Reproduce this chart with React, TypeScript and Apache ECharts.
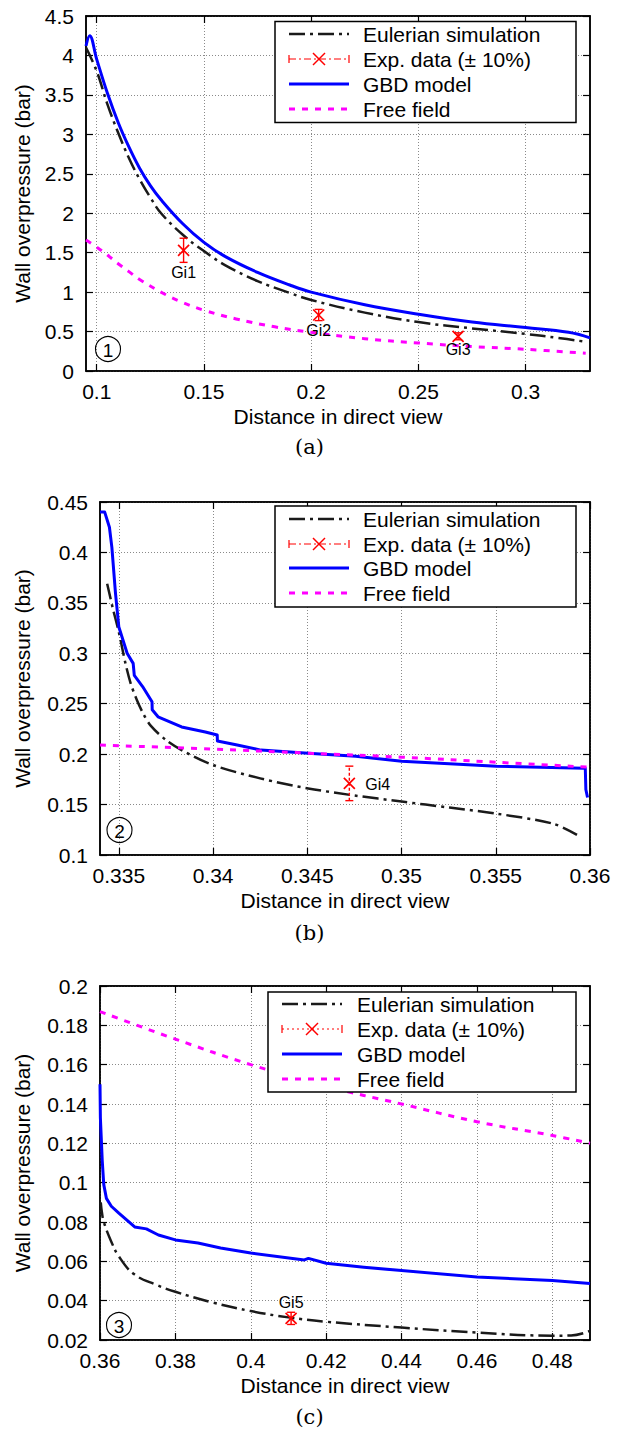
import React, { useEffect, useRef } from "react";
import * as echarts from "echarts";

const FONT = "'Liberation Sans', Arial, sans-serif";
const SERIF = "'DejaVu Serif', 'Liberation Serif', serif";

// ---------- Panel (a) ----------
const xTicksA = [0.1, 0.15, 0.2, 0.25, 0.3];
const eulerA: number[][] = [
  [0.095, 4.1], [0.1, 3.8], [0.105, 3.38], [0.11, 3.02], [0.115, 2.7], [0.12, 2.43],
  [0.125, 2.2], [0.13, 2.0], [0.14, 1.73], [0.15, 1.52], [0.16, 1.34], [0.175, 1.14],
  [0.19, 0.99], [0.2, 0.9], [0.225, 0.74], [0.25, 0.62], [0.275, 0.54], [0.3, 0.47],
  [0.315, 0.42], [0.328, 0.37],
];
const gbdA: number[][] = [
  [0.095, 4.12], [0.0967, 4.25], [0.1, 3.95], [0.105, 3.52], [0.11, 3.15], [0.115, 2.84],
  [0.12, 2.57], [0.125, 2.35], [0.13, 2.17], [0.14, 1.87], [0.15, 1.63], [0.16, 1.45],
  [0.175, 1.25], [0.19, 1.09], [0.2, 1.0], [0.225, 0.84], [0.25, 0.72], [0.275, 0.62],
  [0.3, 0.55], [0.32, 0.49], [0.33, 0.42],
];
const freeA: number[][] = [
  [0.095, 1.66], [0.1, 1.57], [0.105, 1.47], [0.11, 1.36], [0.115, 1.26], [0.12, 1.16],
  [0.132, 0.97], [0.14, 0.87], [0.15, 0.77], [0.165, 0.66], [0.183, 0.56], [0.2, 0.49],
  [0.225, 0.41], [0.25, 0.355], [0.275, 0.31], [0.3, 0.275], [0.328, 0.225],
];
const expXA = [0.1405, 0.2035, 0.2685];
const expYA = [1.53, 0.71, 0.44];
const expNamesA = ["Gi1", "Gi2", "Gi3"];

// ---------- Panel (b) ----------
const xTicksB = [0.335, 0.34, 0.345, 0.35, 0.355, 0.36];
const eulerB: number[][] = [
  [0.33438, 0.369], [0.3347, 0.343], [0.335, 0.321], [0.33535, 0.29], [0.33563, 0.27],
  [0.33595, 0.254], [0.3363, 0.24], [0.3367, 0.228], [0.3375, 0.214], [0.33833, 0.204],
  [0.34003, 0.189], [0.3425, 0.176], [0.34505, 0.166], [0.3475, 0.159], [0.35001, 0.153],
  [0.35254, 0.147], [0.35504, 0.141], [0.35805, 0.131], [0.35931, 0.12],
];
const gbdB: number[][] = [
  [0.334, 0.44], [0.33425, 0.44], [0.3345, 0.425], [0.33463, 0.405], [0.33482, 0.36],
  [0.335, 0.326], [0.33544, 0.3], [0.33576, 0.29], [0.33582, 0.278], [0.33626, 0.267],
  [0.33676, 0.252], [0.33677, 0.244], [0.33708, 0.237], [0.33833, 0.227], [0.33959, 0.222],
  [0.34022, 0.219], [0.34023, 0.213], [0.34128, 0.209], [0.34254, 0.204], [0.34505, 0.201],
  [0.34757, 0.198], [0.35001, 0.193], [0.35504, 0.188], [0.35969, 0.186], [0.35975, 0.186],
  [0.35978, 0.165], [0.35987, 0.157],
];
const freeB: number[][] = [
  [0.334, 0.209], [0.34, 0.205], [0.345, 0.201], [0.35, 0.197], [0.355, 0.192], [0.36, 0.187],
];
const expXB = [0.34723];
const expYB = [0.171];
const expNamesB = ["Gi4"];

// ---------- Panel (c) ----------
const xTicksC = [0.36, 0.38, 0.4, 0.42, 0.44, 0.46, 0.48];
const eulerC: number[][] = [
  [0.3602, 0.09], [0.3605, 0.085], [0.361, 0.08], [0.363, 0.07], [0.365, 0.0625],
  [0.369, 0.0535], [0.375, 0.048], [0.38, 0.0445], [0.39, 0.039], [0.4, 0.0347],
  [0.41, 0.0315], [0.42, 0.0293], [0.44, 0.0263], [0.46, 0.0238], [0.48, 0.0222],
  [0.485, 0.0223], [0.49, 0.0246],
];
const gbdC: number[][] = [
  [0.36, 0.15], [0.3601, 0.133], [0.3606, 0.111], [0.361, 0.099], [0.3617, 0.092],
  [0.363, 0.088], [0.365, 0.0845], [0.3692, 0.0775], [0.3723, 0.0765], [0.3755, 0.0734],
  [0.38, 0.0709], [0.386, 0.0693], [0.392, 0.0668], [0.4, 0.0642], [0.4142, 0.0607],
  [0.4153, 0.0615], [0.42, 0.059], [0.43, 0.057], [0.44, 0.0553], [0.46, 0.052],
  [0.48, 0.0503], [0.49, 0.0487],
];
const freeC: number[][] = [
  [0.36, 0.187], [0.38, 0.173], [0.4, 0.16], [0.42, 0.149], [0.44, 0.14], [0.46, 0.131],
  [0.48, 0.124], [0.49, 0.12],
];
const expXC = [0.4107];
const expYC = [0.031];
const expNamesC = ["Gi5"];

const legendNames = ["Eulerian simulation", "Exp. data (\u00b1 10%)", "GBD model", "Free field"];

const BLACK = "#1a1a1a";
const RED = "#ff0000";
const BLUE = "#0000ff";
const MAGENTA = "#ff00ff";
const EULER_DASH = [16, 5, 3, 5];
const FREE_DASH = [6, 7];

const grids = [
  { left: 86, top: 16, width: 504, height: 355 },
  { left: 100, top: 502, width: 490, height: 353 },
  { left: 100, top: 986, width: 490, height: 354 },
];

function xAxes(gi: number, min: number, max: number, ticks: number[]) {
  const bottom = {
    type: "value", gridIndex: gi, min, max, position: "bottom",
    axisLine: { show: true, onZero: false, lineStyle: { color: "#000", width: 1.5 } },
    axisTick: { show: true, inside: true, length: 7, customValues: ticks, lineStyle: { color: "#000", width: 1.2 } },
    axisLabel: { show: true, customValues: ticks, color: "#000", fontSize: 21, fontFamily: FONT, margin: 10 },
    splitLine: { show: true, lineStyle: { color: "#8a8a8a", width: 1, type: [1, 2] } },
    name: "Distance in direct view", nameLocation: "middle", nameGap: 35,
    nameTextStyle: { color: "#000", fontSize: 21, fontFamily: FONT },
  };
  const top = {
    type: "value", gridIndex: gi, min, max, position: "top",
    axisLine: { show: true, onZero: false, lineStyle: { color: "#000", width: 1.5 } },
    axisTick: { show: true, inside: true, length: 7, customValues: ticks, lineStyle: { color: "#000", width: 1.2 } },
    axisLabel: { show: false },
    splitLine: { show: false },
  };
  return [bottom, top];
}

function yAxes(gi: number, min: number, max: number, interval: number, nameGap: number) {
  const left = {
    type: "value", gridIndex: gi, min, max, interval, position: "left",
    axisLine: { show: true, onZero: false, lineStyle: { color: "#000", width: 1.5 } },
    axisTick: { show: true, inside: true, length: 7, lineStyle: { color: "#000", width: 1.2 } },
    axisLabel: { show: true, color: "#000", fontSize: 21, fontFamily: FONT, margin: 12 },
    splitLine: { show: true, lineStyle: { color: "#8a8a8a", width: 1, type: [1, 2] } },
    name: "Wall overpressure (bar)", nameLocation: "middle", nameGap,
    nameTextStyle: { color: "#000", fontSize: 21, fontFamily: FONT },
  };
  const right = {
    type: "value", gridIndex: gi, min, max, interval, position: "right",
    axisLine: { show: true, onZero: false, lineStyle: { color: "#000", width: 1.5 } },
    axisTick: { show: true, inside: true, length: 7, lineStyle: { color: "#000", width: 1.2 } },
    axisLabel: { show: false },
    splitLine: { show: false },
  };
  return [left, right];
}

function lineSeries(idx: number, name: string, data: number[][], color: string, width: number, type: any, smooth: number | boolean) {
  return {
    type: "line", name, xAxisIndex: idx, yAxisIndex: idx, data,
    showSymbol: false, symbol: "none", smooth,
    lineStyle: { color, width, type, cap: "butt", join: "round" },
    z: 3,
  };
}

function expSeries(idx: number, xs: number[], ys: number[], names: string[], mode: string, dash: number[] | null) {
  const data = xs.map((x, i) => [x, ys[i], ys[i] * 0.9, ys[i] * 1.1]);
  return {
    type: "custom", name: "Exp. data", xAxisIndex: idx, yAxisIndex: idx, data,
    encode: { x: 0, y: 1 }, z: 4,
    renderItem: (params: any, api: any) => {
      const x = api.value(0);
      const p = api.coord([x, api.value(1)]);
      const lo = api.coord([x, api.value(2)]);
      const hi = api.coord([x, api.value(3)]);
      const s = 5.5;
      const c = 4;
      const st = { stroke: RED, lineWidth: 1.4, fill: "none" };
      const label = names[params.dataIndex];
      let text: any;
      if (mode === "below") {
        text = { type: "text", x: p[0], y: lo[1] + 2, style: { text: label, fill: "#000", fontSize: 16, fontFamily: FONT, align: "center", verticalAlign: "top" } };
      } else if (mode === "right") {
        text = { type: "text", x: p[0] + 16, y: p[1] + 1, style: { text: label, fill: "#000", fontSize: 16, fontFamily: FONT, align: "left", verticalAlign: "middle" } };
      } else {
        text = { type: "text", x: p[0], y: hi[1] - 2, style: { text: label, fill: "#000", fontSize: 16, fontFamily: FONT, align: "center", verticalAlign: "bottom" } };
      }
      return {
        type: "group",
        children: [
          { type: "line", shape: { x1: lo[0], y1: lo[1], x2: hi[0], y2: hi[1] }, style: { ...st, lineDash: dash || undefined } },
          { type: "line", shape: { x1: lo[0] - c, y1: lo[1], x2: lo[0] + c, y2: lo[1] }, style: st },
          { type: "line", shape: { x1: hi[0] - c, y1: hi[1], x2: hi[0] + c, y2: hi[1] }, style: st },
          { type: "line", shape: { x1: p[0] - s, y1: p[1] - s, x2: p[0] + s, y2: p[1] + s }, style: { ...st, lineWidth: 1.7 } },
          { type: "line", shape: { x1: p[0] - s, y1: p[1] + s, x2: p[0] + s, y2: p[1] - s }, style: { ...st, lineWidth: 1.7 } },
          text,
        ],
      };
    },
  };
}

function legendGraphic(box: number[], rows: number[], sx1: number, sx2: number, textX: number, expDash: number[]) {
  const [l, t, r, b] = box;
  const els: any[] = [
    { type: "rect", shape: { x: l, y: t, width: r - l, height: b - t }, style: { fill: "#fff", stroke: "#000", lineWidth: 1.5 }, z: 100 },
  ];
  const mid = (sx1 + sx2) / 2;
  els.push({ type: "line", shape: { x1: sx1, y1: rows[0], x2: sx2, y2: rows[0] }, style: { stroke: BLACK, lineWidth: 2.5, lineDash: EULER_DASH }, z: 101 });
  els.push({ type: "line", shape: { x1: sx1, y1: rows[1], x2: sx2, y2: rows[1] }, style: { stroke: RED, lineWidth: 1.2, lineDash: expDash }, z: 101 });
  els.push({ type: "line", shape: { x1: sx1, y1: rows[1] - 4, x2: sx1, y2: rows[1] + 4 }, style: { stroke: RED, lineWidth: 1.2 }, z: 101 });
  els.push({ type: "line", shape: { x1: sx2, y1: rows[1] - 4, x2: sx2, y2: rows[1] + 4 }, style: { stroke: RED, lineWidth: 1.2 }, z: 101 });
  els.push({ type: "line", shape: { x1: mid - 6, y1: rows[1] - 6, x2: mid + 6, y2: rows[1] + 6 }, style: { stroke: RED, lineWidth: 1.5 }, z: 101 });
  els.push({ type: "line", shape: { x1: mid - 6, y1: rows[1] + 6, x2: mid + 6, y2: rows[1] - 6 }, style: { stroke: RED, lineWidth: 1.5 }, z: 101 });
  els.push({ type: "line", shape: { x1: sx1, y1: rows[2], x2: sx2, y2: rows[2] }, style: { stroke: BLUE, lineWidth: 3.2 }, z: 101 });
  els.push({ type: "line", shape: { x1: sx1, y1: rows[3], x2: sx2, y2: rows[3] }, style: { stroke: MAGENTA, lineWidth: 3, lineDash: FREE_DASH }, z: 101 });
  legendNames.forEach((n, i) => {
    els.push({ type: "text", x: textX, y: rows[i], style: { text: n, fill: "#000", fontSize: 21, fontFamily: FONT, verticalAlign: "middle", align: "left" }, z: 101 });
  });
  return els;
}

function circleLabel(cx: number, cy: number, txt: string) {
  return [
    { type: "circle", shape: { cx, cy, r: 12.5 }, style: { fill: "none", stroke: "#000", lineWidth: 1.1 }, z: 50 },
    { type: "text", x: cx, y: cy + 1, style: { text: txt, fill: "#000", fontSize: 19, fontFamily: FONT, align: "center", verticalAlign: "middle" }, z: 50 },
  ];
}

function caption(y: number, txt: string) {
  return { type: "text", x: 309.5, y, style: { text: txt, fill: "#000", fontSize: 21, fontFamily: SERIF, align: "center", verticalAlign: "middle" }, z: 50 };
}

function buildOption() {
  const [xa, xaT] = xAxes(0, 0.095, 0.33, xTicksA);
  const [xb, xbT] = xAxes(1, 0.334, 0.36, xTicksB);
  const [xc, xcT] = xAxes(2, 0.36, 0.49, xTicksC);
  const [ya, yaR] = yAxes(0, 0, 4.5, 0.5, 53);
  const [yb, ybR] = yAxes(1, 0.1, 0.45, 0.05, 67);
  const [yc, ycR] = yAxes(2, 0.02, 0.2, 0.02, 67);
  return {
    animation: false,
    backgroundColor: "#fff",
    grid: grids.map((g) => ({ ...g, show: true, borderColor: "#000", borderWidth: 1.5, backgroundColor: "transparent" })),
    xAxis: [xa, xb, xc, { ...xaT, gridIndex: 0 }, { ...xbT, gridIndex: 1 }, { ...xcT, gridIndex: 2 }],
    yAxis: [ya, yb, yc, { ...yaR, gridIndex: 0 }, { ...ybR, gridIndex: 1 }, { ...ycR, gridIndex: 2 }],
    series: [
      lineSeries(0, "Eulerian simulation", eulerA, BLACK, 2.5, EULER_DASH, 0.4),
      expSeries(0, expXA, expYA, expNamesA, "below", null),
      lineSeries(0, "GBD model", gbdA, BLUE, 3, "solid", 0.4),
      lineSeries(0, "Free field", freeA, MAGENTA, 3, FREE_DASH, 0.4),

      lineSeries(1, "Eulerian simulation", eulerB, BLACK, 2.5, EULER_DASH, 0.3),
      expSeries(1, expXB, expYB, expNamesB, "right", [3, 2]),
      lineSeries(1, "GBD model", gbdB, BLUE, 3, "solid", false),
      lineSeries(1, "Free field", freeB, MAGENTA, 3, FREE_DASH, 0.4),

      lineSeries(2, "Eulerian simulation", eulerC, BLACK, 2.5, EULER_DASH, 0.4),
      expSeries(2, expXC, expYC, expNamesC, "above", null),
      lineSeries(2, "GBD model", gbdC, BLUE, 3, "solid", false),
      lineSeries(2, "Free field", freeC, MAGENTA, 3, FREE_DASH, 0.4),
    ],
    graphic: [
      ...legendGraphic([275, 21.5, 576, 122.5], [34, 59, 84, 109], 289, 349, 363, [7, 3, 2, 3]),
      ...legendGraphic([275, 506, 576, 607], [519, 544, 568, 593], 289, 349, 363, [7, 3, 2, 3]),
      ...legendGraphic([268, 992, 576, 1092], [1004, 1029, 1054, 1079], 282, 342, 357, [2, 3]),
      ...circleLabel(108, 349, "1"),
      ...circleLabel(119.5, 830, "2"),
      ...circleLabel(119, 1325, "3"),
      caption(447, "(a)"),
      caption(933, "(b)"),
      caption(1417, "(c)"),
    ],
  };
}

export default function App() {
  const ref = useRef<HTMLDivElement>(null);
  useEffect(() => {
    if (!ref.current) return;
    const chart = echarts.init(ref.current, null, { renderer: "svg" });
    chart.setOption(buildOption() as any);
    return () => chart.dispose();
  }, []);
  return (
    <div
      ref={ref}
      style={{ position: "absolute", left: 0, top: 0, width: 619, height: 1430, background: "#fff" }}
    />
  );
}
